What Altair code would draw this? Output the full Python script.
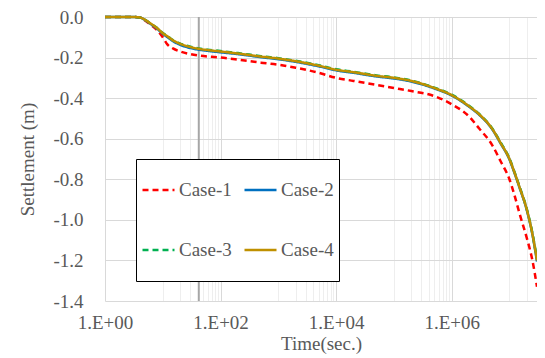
import altair as alt
import pandas as pd

# time (sec.)
times = [1, 2, 3, 4, 5, 6, 8, 10, 12, 15, 20, 30, 42, 60, 100, 200, 500,
         1000, 2000, 5000, 1e4, 2e4, 5e4, 1e5, 2e5, 5e5, 1e6, 2e6, 3e6,
         5e6, 7e6, 1e7, 1.2e7, 1.5e7, 2e7, 2.5e7, 3e7]

case1 = [0, 0, 0, -0.002, -0.018, -0.035, -0.065, -0.10, -0.135, -0.155,
         -0.17, -0.183, -0.19, -0.195, -0.20, -0.21, -0.225, -0.235, -0.25,
         -0.275, -0.30, -0.315, -0.335, -0.35, -0.365, -0.39, -0.43, -0.49,
         -0.55, -0.63, -0.71, -0.80, -0.87, -0.97, -1.09, -1.20, -1.33]
case2 = [0, 0, 0, -0.002, -0.016, -0.032, -0.058, -0.083, -0.099, -0.119,
         -0.137, -0.153, -0.161, -0.167, -0.174, -0.183, -0.198, -0.208,
         -0.221, -0.243, -0.263, -0.275, -0.293, -0.303, -0.318, -0.352,
         -0.387, -0.442, -0.482, -0.552, -0.622, -0.702, -0.762, -0.842,
         -0.952, -1.072, -1.205]
case3 = [0, 0, 0, -0.002, -0.015, -0.03, -0.054, -0.079, -0.094, -0.114,
         -0.131, -0.146, -0.155, -0.161, -0.168, -0.178, -0.193, -0.203,
         -0.216, -0.238, -0.258, -0.27, -0.288, -0.298, -0.313, -0.348,
         -0.383, -0.438, -0.478, -0.548, -0.617, -0.697, -0.757, -0.837,
         -0.947, -1.066, -1.195]
case4 = [0, 0, 0, -0.002, -0.015, -0.03, -0.055, -0.08, -0.095, -0.115,
         -0.132, -0.148, -0.157, -0.163, -0.17, -0.18, -0.195, -0.205,
         -0.218, -0.24, -0.26, -0.272, -0.29, -0.30, -0.315, -0.35, -0.385,
         -0.44, -0.48, -0.55, -0.62, -0.70, -0.76, -0.84, -0.95, -1.07, -1.20]

case_names = ["Case-1", "Case-2", "Case-3", "Case-4"]
case_colors = ["#ff0000", "#0070c0", "#00b050", "#bf9000"]
case_dashes = [[6, 4], [1, 0], [6, 4], [1, 0]]

vline_t = [42]

x_major = [1, 100, 10000, 1000000]
x_major_labels = ["1.E+00", "1.E+02", "1.E+04", "1.E+06"]
x_minor = [10, 20, 30, 40, 50, 60, 70, 80, 90,
           1000, 2000, 3000, 4000, 5000, 6000, 7000, 8000, 9000,
           1e5, 2e5, 3e5, 4e5, 5e5, 6e5, 7e5, 8e5, 9e5,
           1e7, 2e7, 3e7]
y_ticks = [-1.4, -1.2, -1.0, -0.8, -0.6, -0.4, -0.2, 0.0]

FONT = "Liberation Serif"
TXT = "#595959"

rows = []
for name, vals in zip(case_names, [case1, case2, case3, case4]):
    for t, v in zip(times, vals):
        rows.append({"t": t, "s": v, "case": name})
df = pd.DataFrame(rows)
vdf = pd.DataFrame({"t": vline_t})

major_test = " || ".join(f"datum.value == {v}" for v in x_major)
label_expr = " : ".join(f"datum.value == {v} ? '{l}'" for v, l in zip(x_major, x_major_labels)) + " : ''"

x_enc = alt.X(
    "t:Q",
    title="Time(sec.)",
    scale=alt.Scale(type="log", domain=[1, 3e7], nice=False),
    axis=alt.Axis(
        values=x_major + x_minor,
        labelExpr=label_expr,
        labelOverlap=False,
        labelFlush=False,
        labelPadding=12,
        titlePadding=2,
        labelFont=FONT,
        titleFont=FONT,
        labelFontSize=19,
        titleFontSize=19,
        labelColor=TXT,
        titleColor=TXT,
        titleFontWeight="normal",
        domain=False,
        ticks=False,
        grid=True,
        gridColor={"condition": {"test": major_test, "value": "#d9d9d9"}, "value": "#eeeeee"},
    ),
)

y_enc = alt.Y(
    "s:Q",
    title="Settlement (m)",
    scale=alt.Scale(domain=[-1.4, 0], nice=False, zero=False),
    axis=alt.Axis(
        values=y_ticks,
        labelExpr="datum.value == 0 ? '0.0' : '-' + format(abs(datum.value), '.1f')",
        labelPadding=22,
        titlePadding=15,
        labelFont=FONT,
        titleFont=FONT,
        labelFontSize=19,
        titleFontSize=19,
        labelColor=TXT,
        titleColor=TXT,
        titleFontWeight="normal",
        domain=False,
        ticks=False,
        grid=True,
        gridColor="#d9d9d9",
    ),
)

vline = alt.Chart(vdf).mark_rule(color="#a6a6a6", strokeWidth=2).encode(x=x_enc)

lines = alt.Chart(df).mark_line(strokeWidth=2.5, interpolate="monotone").encode(
    x=x_enc,
    y=y_enc,
    color=alt.Color(
        "case:N",
        scale=alt.Scale(domain=case_names, range=case_colors),
        legend=alt.Legend(
            title=None,
            orient="none",
            legendX=31,
            legendY=142,
            direction="horizontal",
            columns=2,
            symbolType="stroke",
            symbolSize=1024,
            symbolStrokeWidth=2.5,
            labelFont=FONT,
            labelFontSize=19,
            labelColor=TXT,
            labelOffset=3,
            strokeColor="black",
            fillColor="white",
            padding=5,
            rowPadding=8,
            columnPadding=11,
            clipHeight=52,
        ),
    ),
    strokeDash=alt.StrokeDash(
        "case:N",
        scale=alt.Scale(domain=case_names, range=case_dashes),
        legend=None,
    ),
    order=alt.Order("t:Q"),
)

chart = alt.layer(vline, lines).properties(
    width=432,
    height=284,
    autosize=alt.AutoSizeParams(type="none"),
    padding={"left": 97, "top": 9, "right": 0, "bottom": 56},
).configure(font=FONT, view={"stroke": None})

chart.save("out.html", embed_options={"renderer": "svg", "actions": False})
